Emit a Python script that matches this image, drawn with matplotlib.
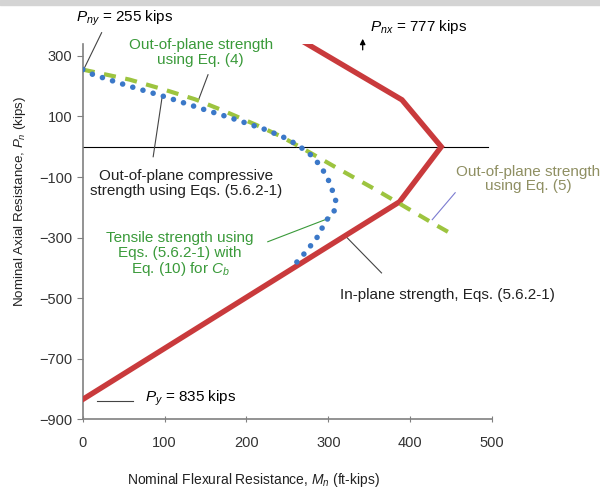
import numpy as np
import matplotlib.pyplot as plt
from matplotlib.patches import Rectangle

plt.rcParams['font.family'] = ['Liberation Sans', 'DejaVu Sans']
plt.rcParams['mathtext.fontset'] = 'custom'
plt.rcParams['mathtext.rm'] = 'Liberation Sans'
plt.rcParams['mathtext.it'] = 'Liberation Sans:italic'

# in-plane interaction (red)
m_inplane = [0, 390, 438, 387, 0]
p_inplane = [777, 155, 0, -182, -835]

# out-of-plane strength, Eq. (4) / Eq. (5) (green dashed)
m_oop = [0, 57, 98, 137, 171, 212, 240, 265, 313, 358, 382, 431, 448]
p_oop = [255, 222, 190, 157, 120, 72, 37, 0, -74, -142, -180, -258, -284]

# out-of-plane compressive + tensile strength, Eqs. (5.6.2-1) (blue dotted)
m_comp = [0, 13, 57, 102, 146, 179, 224, 250, 265, 281, 292, 302, 309, 307, 297, 287, 273, 256]
p_comp = [255, 238, 200, 164, 125, 97, 56, 26, 1, -32, -70, -120, -178, -214, -245, -297, -346, -398]

xticks = [0, 100, 200, 300, 400, 500]
yticks = [300, 100, -100, -300, -500, -700, -900]

red = '#c93a3c'
green_line = '#9dc43f'
blue = '#3b78c8'
green_txt = '#3a9a3a'
olive_txt = '#8f8f62'
gray = '#808080'

fig = plt.figure(figsize=(6, 4.93), dpi=100)
fig.patches.append(Rectangle((0, 1 - 5/493), 1, 5/493, color='#d4d4d4',
                             transform=fig.transFigure, zorder=0))
ax = fig.add_axes([0.138, 0.150, 0.682, 0.761])

ax.plot(m_inplane, p_inplane, color=red, lw=3.9, solid_joinstyle='miter', zorder=3)
ax.plot(m_oop, p_oop, color=green_line, lw=3.0, ls=(0, (2.9, 2.3)), zorder=4)
ax.plot(m_comp, p_comp, color=blue, lw=4.0, ls=(0, (0.01, 1.9)),
        dash_capstyle='round', zorder=5)
ax.plot([0, 495], [0, 0], color='black', lw=0.8, zorder=2)

ax.set_xlim(0, 500)
ax.set_ylim(-900, 340)
ax.set_xticks(xticks)
ax.set_yticks(yticks)
for s in ['top', 'right']:
    ax.spines[s].set_visible(False)
for s in ['left', 'bottom']:
    ax.spines[s].set_color(gray)
    ax.spines[s].set_linewidth(1.2)
ax.tick_params(axis='y', direction='out', length=4, color=gray, labelsize=10.5, labelcolor='#333333')
ax.tick_params(axis='x', direction='inout', length=5, color=gray, labelsize=10.5,
               labelcolor='#333333', pad=10)

ax.set_xlabel('Nominal Flexural Resistance, $M_n$ (ft-kips)', fontsize=10, color='#222222')
ax.xaxis.label.set_va('center')
ax.xaxis.set_label_coords(0.418, -0.163)
ax.set_ylabel('Nominal Axial Resistance, $P_n$ (kips)', fontsize=9.6, color='#222222')
ax.yaxis.label.set_va('center')
ax.yaxis.set_label_coords(-0.154, 0.581)

lk = dict(color='#444444', lw=0.8)
fs = 11

# P_ny
ax.text(51, 426, '$P_{ny}$ = 255 kips', ha='center', va='center', fontsize=fs, clip_on=False)
ax.plot([23, 1], [377, 255], clip_on=False, **lk)

# Eq. (4)
ax.text(144, 312, 'Out-of-plane strength\nusing Eq. (4)', ha='center', va='center',
        fontsize=fs, color=green_txt, linespacing=1.05)
ax.plot([153, 141], [238, 152], **lk)

# out-of-plane compressive
ax.text(126, -122, 'Out-of-plane compressive\nstrength using Eqs. (5.6.2-1)', ha='center',
        va='center', fontsize=fs, color='#222222', linespacing=1.05)
ax.plot([86, 97], [-33, 166], **lk)

# tensile
ax.text(119, -357, 'Tensile strength using\nEqs. (5.6.2-1) with\nEq. (10) for $C_b$', ha='center',
        va='center', fontsize=fs, color=green_txt, linespacing=1.05)
ax.plot([226, 302], [-314, -235], color=green_txt, lw=0.8)

# in-plane
ax.text(446, -489, 'In-plane strength, Eqs. (5.6.2-1)', ha='center', va='center',
        fontsize=fs, color='#222222', clip_on=False)
ax.plot([365, 322], [-417, -298], **lk)

# Eq. (5)
ax.text(544, -106, 'Out-of-plane strength\nusing Eq. (5)', ha='center', va='center',
        fontsize=fs, color=olive_txt, linespacing=1.05, clip_on=False)
ax.plot([455, 427], [-152, -241], color='#7b7bd0', lw=0.8, clip_on=False)

# P_nx
ax.text(410, 397, '$P_{nx}$ = 777 kips', ha='center', va='center', fontsize=fs, clip_on=False)
ax.annotate('', xy=(342, 366), xytext=(342, 311), annotation_clip=False,
            arrowprops=dict(arrowstyle='-|>', color='black', lw=0.9, mutation_scale=8))

# P_y
ax.text(132, -830, '$P_y$ = 835 kips', ha='center', va='center', fontsize=fs)
ax.plot([17, 61], [-840, -840], **lk)

fig.savefig('out.png', dpi=100)
